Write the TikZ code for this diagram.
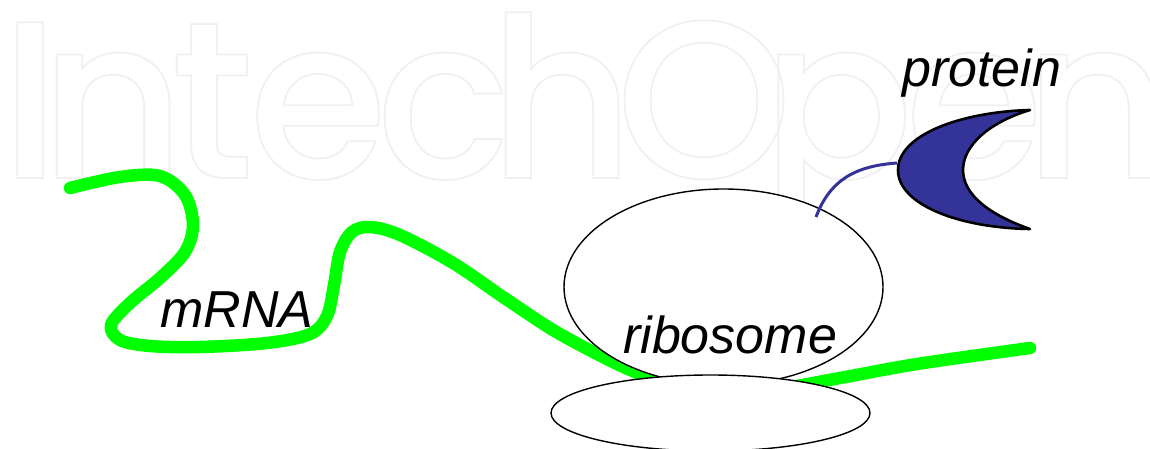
\documentclass[tikz,border=0pt]{standalone}
\usepackage{fontspec}
\setmainfont{Liberation Sans}
\newfontfamily\wmfont{Poppins Medium}
\usetikzlibrary{shapes.geometric}
\definecolor{mrnagreen}{RGB}{0,255,0}
\definecolor{protblue}{RGB}{51,51,153}
\definecolor{wmgray}{RGB}{239,239,239}
\newcommand{\wmglyph}[1]{\wmfont\fontsize{224}{240}\selectfont\special{pdf:literal direct 1 Tr 1.8 w 0.94 G}#1\special{pdf:literal direct 0 Tr}}
\tikzset{
  lbl/.style={font=\fontsize{52}{60}\selectfont\itshape, inner sep=0pt, anchor=base west},
  wm/.style={anchor=base, inner sep=0pt, text=wmgray},
  ribo/.style={ellipse, draw=black, line width=1.4pt, fill=white, inner sep=0pt},
  mrna/.style={draw=mrnagreen, line width=12.5pt, line cap=round, line join=round},
  stem/.style={draw=protblue, line width=3pt},
  prot/.style={fill=protblue, draw=black, line width=2.6pt, line join=round}
}
\begin{document}
\begin{tikzpicture}[x=1pt, y=-1pt]
\useasboundingbox (0,0) rectangle (1150,449);
% watermark, letter by letter
\node[wm] (wm1) at (30,178) {\wmglyph{I}};
\node[wm] (wm2) at (112.5,178) {\wmglyph{n}};
\node[wm] (wm3) at (212,178) {\wmglyph{t}};
\node[wm] (wm4) at (318,178) {\wmglyph{e}};
\node[wm] (wm5) at (443.5,178) {\wmglyph{c}};
\node[wm] (wm6) at (561.5,178) {\wmglyph{h}};
\node[wm] (wm7) at (704,178) {\wmglyph{O}};
\node[wm] (wm8) at (837.5,178) {\wmglyph{p}};
\node[wm] (wm9) at (974,178) {\wmglyph{e}};
\node[wm] (wm10) at (1097,178) {\wmglyph{n}};
% mRNA strand
\draw[mrna] plot[smooth, tension=0.55] coordinates {
  (70,188) (120,177) (160,176) (185,195) (193,225) (185,252) (160,278)
  (130,303) (111,325) (120,340) (150,346) (200,347) (267,343) (310,334)
  (327,316) (334,285) (340,252) (352,232) (370,227) (400,235) (453,263)
  (503,297) (553,330) (603,357) (640,374) (700,395) (760,392) (840,378)
  (917,364) (1030,348)};
% ribosome
\node[ribo, minimum width=319pt, minimum height=196pt] (bigsub) at (723.5,287) {};
\node[ribo, minimum width=319pt, minimum height=76pt] (smallsub) at (710.5,413) {};
\node[lbl] (ribotxt) at (623,353) {ribosome};
\node[lbl] (mrnatxt) at (160,327) {mRNA};
% protein
\coordinate (stemend) at (816,217);
\coordinate (stemstart) at (897,163);
\draw[stem] (stemstart) .. controls (855,166) and (830,180) .. (stemend);
\path[prot] (1030,110) .. controls (960,112) and (898,135) .. (898,170)
  .. controls (898,205) and (960,228) .. (1030,229)
  .. controls (990,215) and (963,195) .. (963,170)
  .. controls (963,145) and (990,122) .. (1030,110) -- cycle;
\node[lbl] (prottxt) at (902,87) {protein};
\end{tikzpicture}
\end{document}
